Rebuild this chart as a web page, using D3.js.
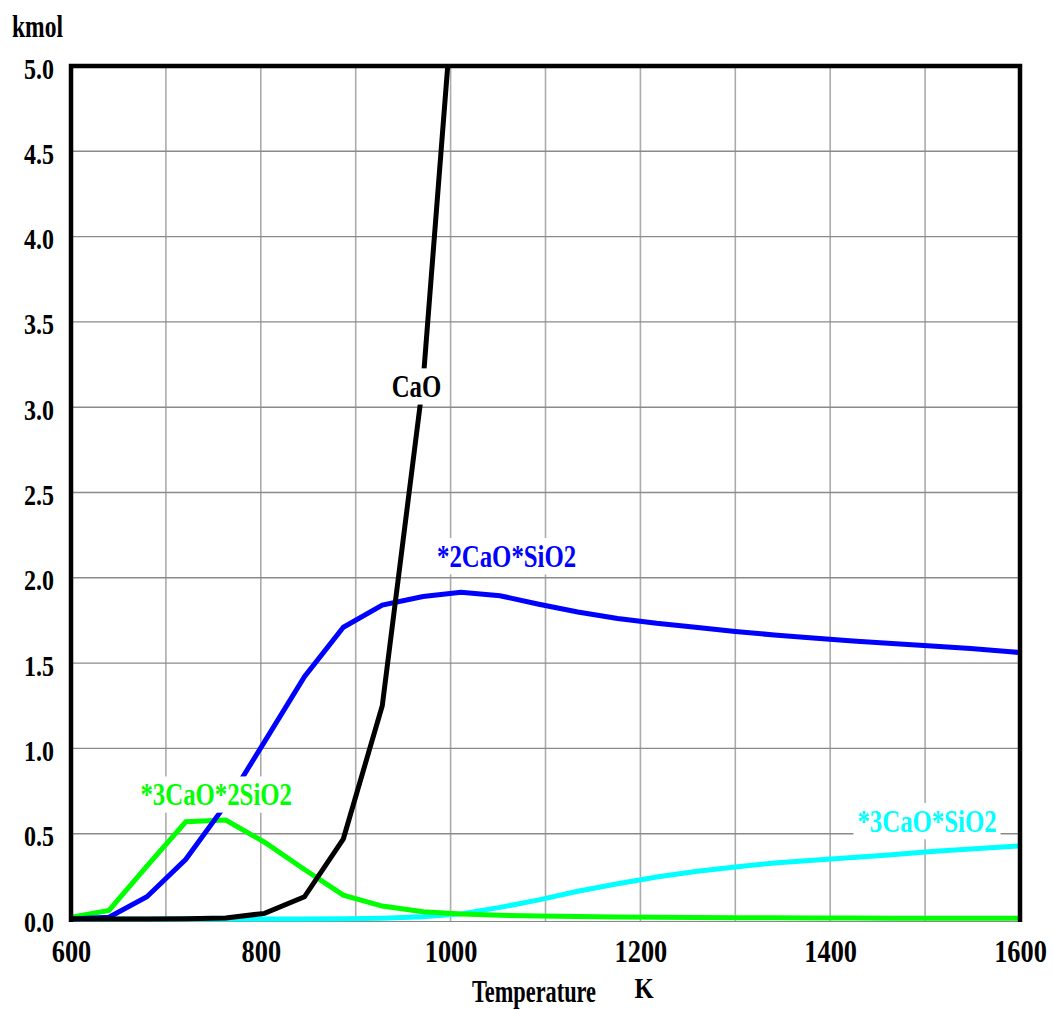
<!DOCTYPE html>
<html>
<head>
<meta charset="utf-8">
<script src="https://cdn.jsdelivr.net/npm/d3@7"></script>
<style>
  body { margin: 0; background: #fff; }
  svg { display: block; }
  text { font-family: "Liberation Serif", "Times New Roman", serif; font-weight: bold; }
</style>
</head>
<body>
<svg id="chart" width="1053" height="1010"></svg>
<script>
// ---- data ----
const temperature = [600, 640, 680, 721, 763, 804, 846, 887, 928, 971, 1011, 1052, 1093, 1134, 1176, 1217, 1258, 1300, 1341, 1382, 1424, 1465, 1507, 1548, 1590, 1600];
const cao        = [0, 0, 0, 0.002, 0.006, 0.033, 0.13, 0.47, 1.25, 3.15, 6.0, 6.9, 7.5, 7.9, 8.2, 8.4, 8.5, 8.6, 8.65, 8.7, 8.72, 8.74, 8.75, 8.76, 8.77, 8.78];
const c2s        = [0, 0.01, 0.13, 0.35, 0.67, 1.04, 1.42, 1.71, 1.84, 1.89, 1.915, 1.895, 1.845, 1.80, 1.762, 1.733, 1.71, 1.685, 1.665, 1.647, 1.63, 1.615, 1.60, 1.585, 1.566, 1.562];
const c3s2       = [0.01, 0.05, 0.31, 0.57, 0.58, 0.45, 0.29, 0.14, 0.076, 0.043, 0.03, 0.022, 0.017, 0.014, 0.012, 0.01, 0.009, 0.008, 0.007, 0.006, 0.006, 0.005, 0.005, 0.005, 0.005, 0.005];
const c3s        = [0, 0, 0, 0, 0, 0, 0, 0.002, 0.005, 0.013, 0.03, 0.068, 0.112, 0.163, 0.207, 0.246, 0.278, 0.305, 0.328, 0.345, 0.36, 0.377, 0.395, 0.41, 0.425, 0.428];

const seriesNames  = ["*3CaO*SiO2", "*3CaO*2SiO2", "*2CaO*SiO2", "CaO"];
const seriesColors = ["#00ffff", "#00ff00", "#0000ff", "#000000"];
const seriesValues = [c3s, c3s2, c2s, cao];
// label anchors in data units [temperature, value]
const labelAnchors = [[1502, 0.512], [753, 0.668], [1059, 2.065], [964, 3.06]];

const xTicks = [600, 800, 1000, 1200, 1400, 1600];
const xGrid  = [700, 800, 900, 1000, 1100, 1200, 1300, 1400, 1500];
const yTicks = [0, 0.5, 1, 1.5, 2, 2.5, 3, 3.5, 4, 4.5, 5];
const yGrid  = [0.5, 1, 1.5, 2, 2.5, 3, 3.5, 4, 4.5];
const yUnit = "kmol", xTitle = "Temperature", xUnit = "K";

// ---- layout ----
const svg = d3.select("#chart");
const L = 71, R = 1020, T = 66, B = 919;
const x = d3.scaleLinear().domain([600, 1600]).range([L, R]);
const y = d3.scaleLinear().domain([0, 5]).range([B, T]);
const SX = 0.8;

svg.append("defs").append("clipPath").attr("id", "plotclip")
  .append("rect").attr("x", L).attr("y", T).attr("width", R - L).attr("height", B - T + 4);

// grid
svg.append("g").selectAll("line").data(xGrid).join("line")
  .attr("x1", d => x(d)).attr("x2", d => x(d)).attr("y1", T).attr("y2", B + 2)
  .attr("stroke", "#ababab").attr("stroke-width", 1.6);
svg.append("g").selectAll("line").data(yGrid).join("line")
  .attr("x1", L).attr("x2", R).attr("y1", d => y(d)).attr("y2", d => y(d))
  .attr("stroke", "#8a8a8a").attr("stroke-width", 1.4);

// bottom baseline (thin)
svg.append("line").attr("x1", L).attr("x2", R).attr("y1", B + 2.5).attr("y2", B + 2.5)
  .attr("stroke", "#888").attr("stroke-width", 1.2);

// lines
const line = d3.line().x((d, i) => x(temperature[i])).y(d => y(d));
const plot = svg.append("g").attr("clip-path", "url(#plotclip)");
seriesValues.forEach((vals, k) => {
  plot.append("path").datum(vals)
    .attr("d", line)
    .attr("fill", "none")
    .attr("stroke", seriesColors[k])
    .attr("stroke-width", 5)
    .attr("stroke-linejoin", "miter");
});

// series labels with white boxes
seriesNames.forEach((name, k) => {
  const g = svg.append("g");
  const t = g.append("text")
    .attr("text-anchor", "middle")
    .attr("font-size", 31)
    .attr("fill", seriesColors[k])
    .attr("transform", `translate(${x(labelAnchors[k][0])},${y(labelAnchors[k][1])}) scale(${SX},1)`)
    .text(name);
  const bb = t.node().getBBox();
  g.insert("rect", "text")
    .attr("x", x(labelAnchors[k][0]) + (bb.x - 5) * SX)
    .attr("y", y(labelAnchors[k][1]) + bb.y - 1)
    .attr("width", (bb.width + 10) * SX)
    .attr("height", bb.height + 2)
    .attr("fill", "#fff");
});

// frame (left, top, right)
svg.append("path")
  .attr("d", `M${L},${B + 3} L${L},${T} L${R},${T} L${R},${B + 3}`)
  .attr("fill", "none").attr("stroke", "#000").attr("stroke-width", 4.5);

// axes (labels only)
const yAxis = svg.append("g").attr("transform", `translate(${L},0)`)
  .call(d3.axisLeft(y).tickValues(yTicks).tickFormat(d3.format(".1f")).tickSize(0).tickPadding(0));
yAxis.select(".domain").remove();
yAxis.selectAll("text")
  .attr("font-size", 30).attr("fill", "#000")
  .attr("x", -17 / SX).attr("dy", 12)
  .attr("transform", `scale(${SX},1)`);

const xAxis = svg.append("g").attr("transform", `translate(0,${B})`)
  .call(d3.axisBottom(x).tickValues(xTicks).tickFormat(d3.format("d")).tickSize(0).tickPadding(0));
xAxis.select(".domain").remove();
xAxis.selectAll("text")
  .attr("font-size", 31).attr("fill", "#000")
  .attr("y", 0).attr("dy", 43)
  .attr("transform", `scale(${SX + 0.05},1)`);

// titles
svg.append("text")
  .attr("transform", `translate(12,37) scale(0.76,1)`)
  .attr("font-size", 31).text(yUnit);
svg.append("text").attr("text-anchor", "middle")
  .attr("transform", `translate(534,1002) scale(0.72,1)`)
  .attr("font-size", 31).text(xTitle);
svg.append("text").attr("text-anchor", "middle")
  .attr("transform", `translate(644,998) scale(0.85,1)`)
  .attr("font-size", 29).text(xUnit);
</script>
</body>
</html>
